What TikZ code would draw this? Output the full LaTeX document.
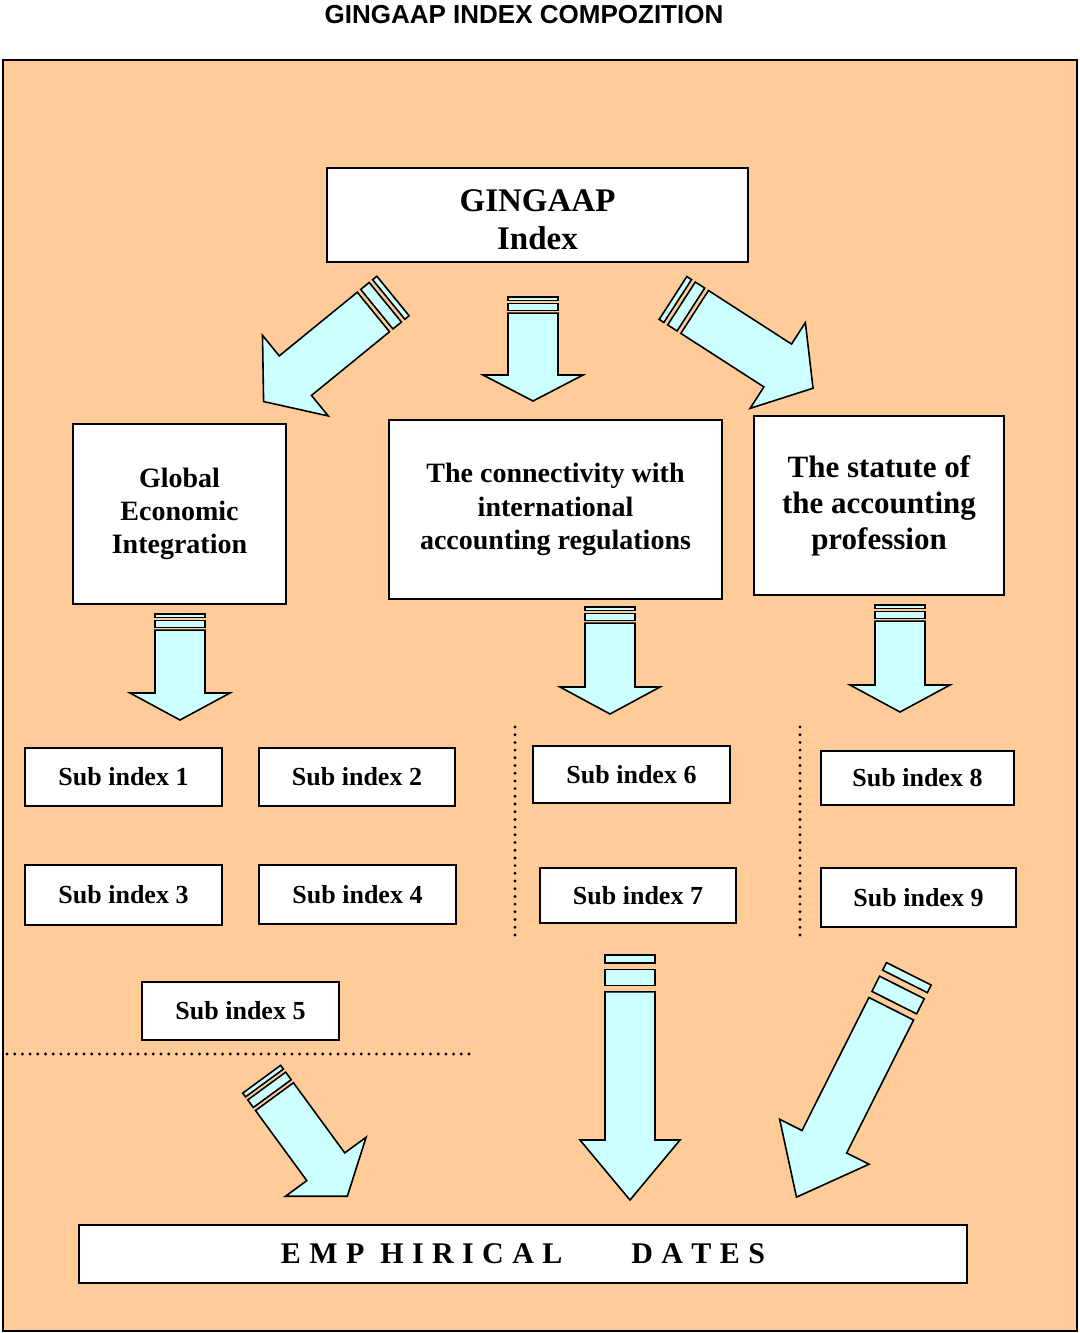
\documentclass[tikz,border=0pt]{standalone}
\usepackage{fontspec}
\setmainfont{Liberation Serif}
\newfontfamily\arialfont{Liberation Sans}
\usepackage{tikz}
\definecolor{peach}{HTML}{FFCC99}
\definecolor{aqua}{HTML}{CCFFFF}
\newcommand\lsp{\hspace{0.28em}}
% tail x, tail y, angle, length, shaft half width, head half width, head length, stripe unit
\newcommand\striparrow[8]{%
\begin{scope}[shift={(#1,#2)},rotate=#3]
\filldraw[fill=aqua] (0,-#5) rectangle (#8,#5);
\filldraw[fill=aqua] (1.8*#8,-#5) rectangle (3.8*#8,#5);
\filldraw[fill=aqua] (4.6*#8,-#5) -- (#4-#7,-#5) -- (#4-#7,-#6) -- (#4,0) -- (#4-#7,#6) -- (#4-#7,#5) -- (4.6*#8,#5) -- cycle;
\end{scope}}

\begin{document}
\begin{tikzpicture}[x=1pt,y=-1pt,line width=1.6pt,line join=miter]
\tikzset{box/.style={draw,fill=white,align=center,inner sep=0pt},
  subbox/.style={box,font=\fontsize{26}{30}\selectfont\bfseries},
  sep/.style={line width=3.2pt,line cap=round,dash pattern=on 0pt off 7.7pt}}
\useasboundingbox (0,0) rectangle (1079,1333);
\node[font=\fontsize{26}{30}\selectfont\arialfont\bfseries] (title) at (524,15) {GINGAAP INDEX COMPOZITION};
\filldraw[fill=peach] (3,60) rectangle (1077,1331);
\node[box,minimum width=421pt,minimum height=94pt] (gin) at (537.5,215) {};
\node[font=\fontsize{33}{38}\selectfont\bfseries,align=center] (gintext) at ([yshift=-5pt]gin.center) {GINGAAP\\Index};
\node[box,minimum width=213pt,minimum height=180pt,font=\fontsize{28}{33}\selectfont\bfseries] (glob) at (179.5,514) {Global\\Economic\\Integration};
\node[box,minimum width=333pt,minimum height=179pt,font=\fontsize{28}{33.5}\selectfont\bfseries] (conn) at (555.5,509.5) {The connectivity with\\international\\accounting regulations};
\node[box,minimum width=250pt,minimum height=179pt,font=\fontsize{31}{36}\selectfont\bfseries] (stat) at (879,505.5) {The statute of\\the accounting\\profession};
\node[subbox,minimum width=197pt,minimum height=58pt] (s1) at (123.5,777) {Sub index 1};
\node[subbox,minimum width=196pt,minimum height=58pt] (s2) at (357,777) {Sub index 2};
\node[subbox,minimum width=197pt,minimum height=60pt] (s3) at (123.5,895) {Sub index 3};
\node[subbox,minimum width=197pt,minimum height=59pt] (s4) at (357.5,894.5) {Sub index 4};
\node[subbox,minimum width=197pt,minimum height=58pt] (s5) at (240.5,1011) {Sub index 5};
\node[subbox,minimum width=197pt,minimum height=57pt] (s6) at (631.5,774.5) {Sub index 6};
\node[subbox,minimum width=196pt,minimum height=55pt] (s7) at (638,895.5) {Sub index 7};
\node[subbox,minimum width=193pt,minimum height=54pt] (s8) at (917.5,778) {Sub index 8};
\node[subbox,minimum width=195pt,minimum height=59pt] (s9) at (918.5,897.5) {Sub index 9};
\node[box,minimum width=888pt,minimum height=58pt,font=\fontsize{30}{34}\selectfont\bfseries] (emp) at (523,1254) {E\lsp M\lsp P\lsp\ H\lsp I\lsp R\lsp I\lsp C\lsp A\lsp L\hspace{2.3em}D\lsp A\lsp T\lsp E\lsp S};
\draw[sep] (7,1054) -- (470,1054);
\draw[sep] (515,727) -- (515,940);
\draw[sep] (800,727) -- (800,938);
\striparrow{393}{296}{219.2}{167}{25.5}{52}{41}{5.5}
\striparrow{533}{297}{-90}{104}{25}{50}{26}{3.5}
\striparrow{673}{298}{-32.8}{166.6}{25.5}{51}{42}{5.6}
\striparrow{180}{614}{-90}{106}{25}{50}{27}{3.5}
\striparrow{610}{607}{-90}{107}{25}{50}{27}{3.5}
\striparrow{900}{605}{-90}{107}{25}{50}{27}{3.5}
\striparrow{261.7}{1079.2}{-53.8}{145}{23.5}{50}{36.5}{4.7}
\striparrow{630}{955}{-90}{245}{25}{50}{60}{8}
\striparrow{908.8}{973.8}{243.3}{250}{25}{50}{62}{8.5}
\end{tikzpicture}
\end{document}
